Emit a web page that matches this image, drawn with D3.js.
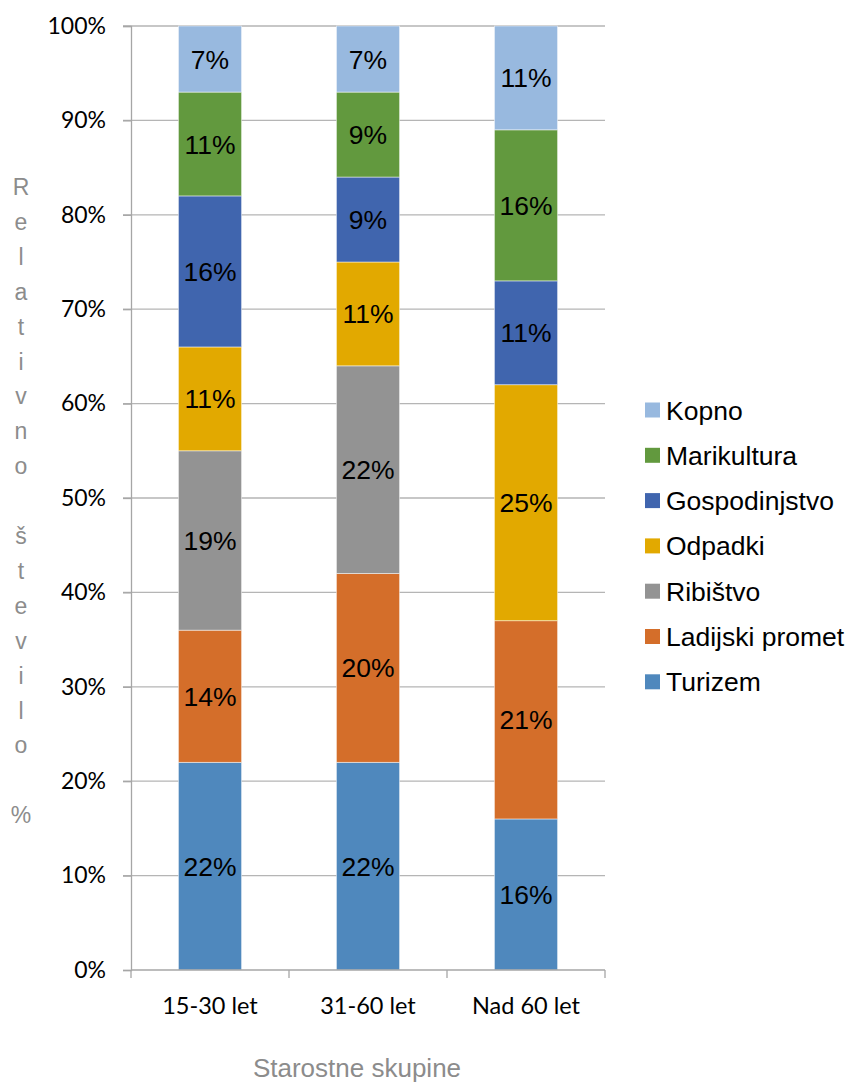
<!DOCTYPE html>
<html>
<head>
<meta charset="utf-8">
<script src="https://cdn.jsdelivr.net/npm/d3@7"></script>
<style>
  html, body { margin: 0; padding: 0; background: #fff; }
  svg { display: block; }
</style>
</head>
<body>
<div id="chart"></div>
<script>
// Age groups and the share (%) of each pressure category
const groups = ["15-30 let", "31-60 let", "Nad 60 let"];
const seriesNames = ["Turizem", "Ladijski promet", "Ribištvo", "Odpadki", "Gospodinjstvo", "Marikultura", "Kopno"];
const turizem       = [22, 22, 16];
const ladijski      = [14, 20, 21];
const ribistvo      = [19, 22, 0];
const odpadki       = [11, 11, 25];
const gospodinjstvo = [16, 9, 11];
const marikultura   = [11, 9, 16];
const kopno         = [7, 7, 11];
const seriesColors  = ["#4F88BD", "#D46E2A", "#939393", "#E2A900", "#4065AE", "#62993E", "#98B9DF"];
const yTicks = [0, 10, 20, 30, 40, 50, 60, 70, 80, 90, 100];

const seriesValues = [turizem, ladijski, ribistvo, odpadki, gospodinjstvo, marikultura, kopno];

const W = 847, H = 1082;
const plot = { left: 131, right: 605, top: 26, bottom: 970 };
const ARIAL = "'Liberation Sans', Arial, sans-serif";
const SANS2 = "Lato, 'Open Sans', sans-serif";

const svg = d3.select("#chart").append("svg")
  .attr("width", W).attr("height", H);

const x = d3.scaleBand().domain(groups)
  .range([plot.left, plot.right])
  .paddingInner(0.6).paddingOuter(0.3);

const y = d3.scaleLinear().domain([0, 100]).range([plot.bottom, plot.top]);

// Build rows for stacking
const rows = groups.map((g, i) => {
  const r = { group: g };
  seriesNames.forEach((s, k) => { r[s] = seriesValues[k][i]; });
  return r;
});
const stacked = d3.stack().keys(seriesNames)(rows);

// Horizontal gridlines (with left tick stubs)
svg.append("g").selectAll("line")
  .data(yTicks.filter(t => t > 0))
  .join("line")
  .attr("x1", plot.left - 8).attr("x2", plot.right)
  .attr("y1", d => y(d)).attr("y2", d => y(d))
  .attr("stroke", "#b5b5b5").attr("stroke-width", 1.3);

// Y axis
const yAxis = svg.append("g")
  .attr("transform", `translate(${plot.left},0)`)
  .call(d3.axisLeft(y).tickValues(yTicks).tickFormat(d => d + "%").tickSize(8).tickPadding(17));
yAxis.select(".domain").attr("stroke", "#a6a6a6").attr("stroke-width", 1.3);
yAxis.selectAll(".tick line").attr("stroke", "#a6a6a6").attr("stroke-width", 1.3);
yAxis.selectAll(".tick text")
  .attr("font-family", SANS2)
  .attr("font-size", 23).attr("fill", "#000");

// Bars
const layer = svg.append("g").selectAll("g")
  .data(stacked).join("g")
  .attr("fill", (d, i) => seriesColors[i]);

const segs = d => d.map(v => ({ v, key: d.key })).filter(s => s.v[1] - s.v[0] > 0);

layer.selectAll("rect")
  .data(segs)
  .join("rect")
  .attr("x", d => x(d.v.data.group))
  .attr("width", x.bandwidth())
  .attr("y", d => y(d.v[1]))
  .attr("height", d => y(d.v[0]) - y(d.v[1]))
  .attr("stroke", "#ffffff").attr("stroke-width", 0.8).attr("stroke-opacity", 0.6);

// Value labels
layer.selectAll("text")
  .data(segs)
  .join("text")
  .attr("x", d => x(d.v.data.group) + x.bandwidth() / 2)
  .attr("y", d => (y(d.v[0]) + y(d.v[1])) / 2)
  .attr("dy", "0.36em")
  .attr("text-anchor", "middle")
  .attr("font-family", ARIAL)
  .attr("font-size", 26.5).attr("fill", "#000")
  .text(d => (d.v[1] - d.v[0]) + "%");

// X axis
const xEdges = [plot.left, ...groups.map(g => x(g) + x.bandwidth() / 2 + x.step() / 2)];
const xAxis = svg.append("g");
xAxis.append("line")
  .attr("x1", plot.left).attr("x2", plot.right)
  .attr("y1", plot.bottom).attr("y2", plot.bottom)
  .attr("stroke", "#a6a6a6").attr("stroke-width", 1.3);
xAxis.selectAll("line.tick")
  .data(xEdges).join("line").attr("class", "tick")
  .attr("x1", d => d).attr("x2", d => d)
  .attr("y1", plot.bottom).attr("y2", plot.bottom + 8)
  .attr("stroke", "#a6a6a6").attr("stroke-width", 1.3);
xAxis.selectAll("text")
  .data(groups).join("text")
  .attr("x", d => x(d) + x.bandwidth() / 2)
  .attr("y", 1014)
  .attr("text-anchor", "middle")
  .attr("font-family", SANS2)
  .attr("font-size", 23.5).attr("fill", "#000")
  .text(d => d);

// Axis titles
svg.append("text")
  .attr("x", 357).attr("y", 1077)
  .attr("text-anchor", "middle")
  .attr("font-family", ARIAL)
  .attr("font-size", 26).attr("fill", "#8c8c8c")
  .text("Starostne skupine");

const yTitle = "Relativno število %".split("");
svg.append("g").selectAll("text")
  .data(yTitle).join("text")
  .attr("x", 21)
  .attr("y", (d, i) => 195 + i * 34.9)
  .attr("text-anchor", "middle")
  .attr("font-family", ARIAL)
  .attr("font-size", 23).attr("fill", "#8c8c8c")
  .text(d => d);

// Legend (top entry is the last series)
const legendItems = seriesNames.map((s, i) => ({ name: s, color: seriesColors[i] })).reverse();
const legend = svg.append("g").selectAll("g")
  .data(legendItems).join("g")
  .attr("transform", (d, i) => `translate(645, ${410 + i * 45.3})`);
legend.append("rect")
  .attr("x", 0).attr("y", -7.5).attr("width", 15).attr("height", 15)
  .attr("fill", d => d.color);
legend.append("text")
  .attr("x", 21).attr("y", 0).attr("dy", "0.36em")
  .attr("font-family", ARIAL)
  .attr("font-size", 26.5).attr("fill", "#000")
  .text(d => d.name);
</script>
</body>
</html>
